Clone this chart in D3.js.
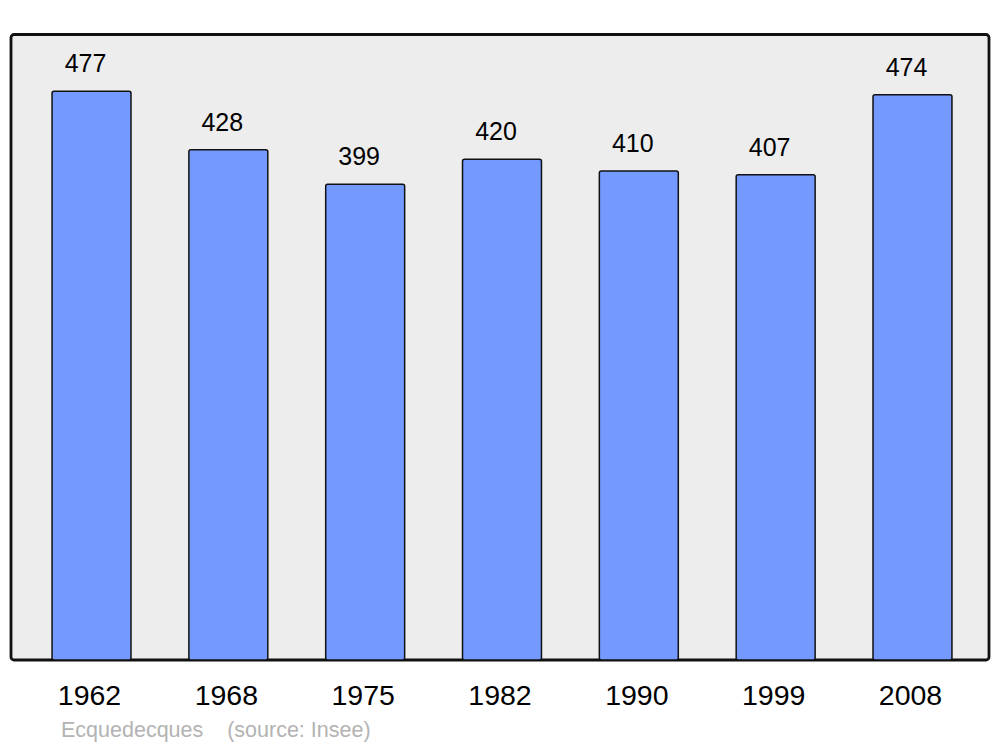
<!DOCTYPE html>
<html>
<head>
<meta charset="utf-8">
<script src="https://cdn.jsdelivr.net/npm/d3@7"></script>
<style>
  html, body { margin: 0; padding: 0; background: #ffffff; }
  svg { display: block; font-family: "Liberation Sans", Arial, sans-serif; }
</style>
</head>
<body>
<svg id="chart" width="1000" height="747"></svg>
<script>
const years = ["1962", "1968", "1975", "1982", "1990", "1999", "2008"];
const population = [477, 428, 399, 420, 410, 407, 474];
const footerText = "Ecquedecques    (source: Insee)";

const svg = d3.select("#chart");

const x = d3.scaleBand()
  .domain(years)
  .range([23.1, 980.9])
  .paddingInner(0.423)
  .paddingOuter(0.2115);

const y = d3.scaleLinear()
  .domain([0, 525])
  .range([660, 34]);

// panel
svg.append("rect")
  .attr("x", 11).attr("y", 34.5)
  .attr("width", 978).attr("height", 625.5)
  .attr("rx", 3).attr("ry", 3)
  .attr("fill", "#ededed")
  .attr("stroke", "#111111")
  .attr("stroke-width", 2.8);

const data = years.map((yr, i) => ({ yr, v: population[i] }));

svg.selectAll("rect.bar")
  .data(data)
  .enter().append("rect")
  .attr("class", "bar")
  .attr("x", d => x(d.yr))
  .attr("y", d => y(d.v))
  .attr("width", x.bandwidth())
  .attr("height", d => y(0) - y(d.v))
  .attr("rx", 2).attr("ry", 2)
  .attr("fill", "#7499ff")
  .attr("stroke", "#111111")
  .attr("stroke-width", 1.5);

// value labels
svg.selectAll("text.val")
  .data(data)
  .enter().append("text")
  .attr("class", "val")
  .attr("x", d => x(d.yr) + x.bandwidth() / 2 - 6)
  .attr("y", d => y(d.v) - 19)
  .attr("text-anchor", "middle")
  .attr("font-size", 25)
  .attr("fill", "#000")
  .text(d => d.v);

// x labels
svg.selectAll("text.yr")
  .data(years)
  .enter().append("text")
  .attr("class", "yr")
  .attr("x", d => x(d) + x.bandwidth() / 2 - 2)
  .attr("y", 705)
  .attr("text-anchor", "middle")
  .attr("font-size", 28.5)
  .attr("fill", "#000")
  .text(d => d);

// footer
svg.append("text")
  .attr("x", 61)
  .attr("y", 737)
  .attr("font-size", 21.5)
  .attr("fill", "#b3b3b3")
  .style("white-space", "pre")
  .attr("xml:space", "preserve")
  .text(footerText);
</script>
</body>
</html>
